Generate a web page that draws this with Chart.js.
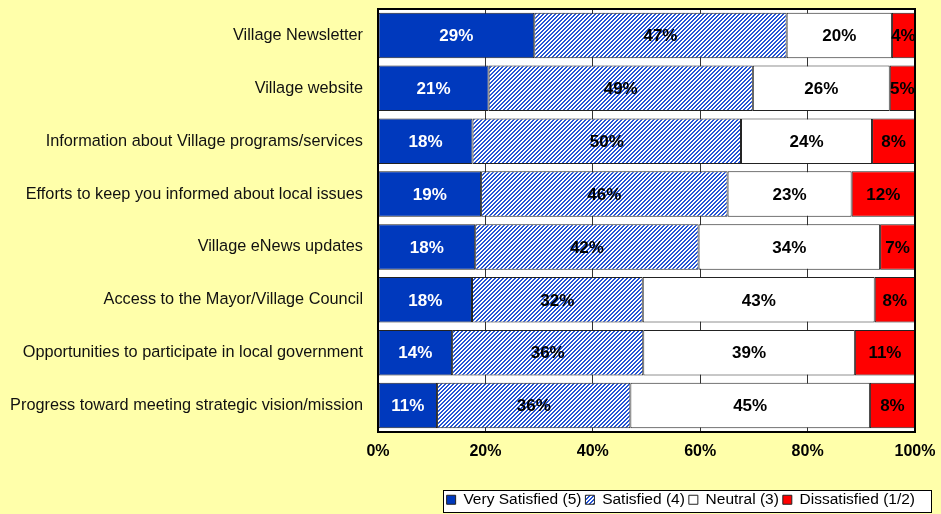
<!DOCTYPE html>
<html><head><meta charset="utf-8">
<script src="https://cdn.jsdelivr.net/npm/chart.js@4/dist/chart.umd.min.js"></script>
<style>html,body{margin:0;padding:0;background:#FFFFAA;overflow:hidden}</style>
</head><body>
<canvas id="c" width="941" height="514"></canvas>
<script>
const categories = [
  "Village Newsletter",
  "Village website",
  "Information about Village programs/services",
  "Efforts to keep you informed about local issues",
  "Village eNews updates",
  "Access to the Mayor/Village Council",
  "Opportunities to participate in local government",
  "Progress toward meeting strategic vision/mission"
];
const seriesNames = ["Very Satisfied (5)", "Satisfied (4)", "Neutral (3)", "Dissatisfied (1/2)"];
const verySatisfied = [29.1, 20.6, 17.6, 19.2, 18.1, 17.5, 13.8, 11.0];
const satisfied     = [47.0, 49.2, 50.0, 45.9, 41.6, 31.8, 35.6, 36.0];
const neutral       = [19.6, 25.5, 24.4, 23.1, 33.8, 43.2, 39.4, 44.6];
const dissatisfied  = [4.3, 4.7, 8.0, 11.8, 6.5, 7.5, 11.2, 8.4];
const xTickValues = [0, 20, 40, 60, 80, 100];

const BLUE = '#0039BD';
const HATCH_BLUE = '#2454D6';
const FONT = "'Liberation Sans', Arial, sans-serif";

function hatchPattern() {
  const c = document.createElement('canvas');
  c.width = 4; c.height = 4;
  const g = c.getContext('2d');
  g.fillStyle = '#fff'; g.fillRect(0, 0, 4, 4);
  g.fillStyle = HATCH_BLUE;
  for (let y = 0; y < 4; y++) for (let x = 0; x < 4; x++) if ((x + y) % 4 < 2) g.fillRect(x, y, 1, 1);
  return g.createPattern(c, 'repeat');
}

const labelColors = ['#ffffff', '#000000', '#000000', '#000000'];

const bgPlugin = {
  id: 'bg',
  beforeDraw(chart) {
    const {ctx, chartArea: a} = chart;
    ctx.save();
    ctx.fillStyle = '#FFFFAA';
    ctx.fillRect(0, 0, chart.width, chart.height);
    ctx.fillStyle = '#ffffff';
    ctx.fillRect(a.left, a.top, a.right - a.left, a.bottom - a.top);
    const boxes = chart.legend && chart.legend.legendHitBoxes;
    if (boxes && boxes.length) {
      const l = Math.min(...boxes.map(b => b.left));
      const r = Math.max(...boxes.map(b => b.left + b.width));
      const t = Math.min(...boxes.map(b => b.top));
      const bt = Math.max(...boxes.map(b => b.top + b.height));
      const x0 = Math.round(l - 4) + 0.5, x1 = Math.round(r + 16) + 0.5;
      const y0 = Math.round(t - 2) + 0.5, y1 = Math.round(bt + 4) + 0.5;
      ctx.fillStyle = '#ffffff';
      ctx.fillRect(x0, y0, x1 - x0, y1 - y0);
      ctx.strokeStyle = '#000';
      ctx.lineWidth = 1;
      ctx.strokeRect(x0, y0, x1 - x0, y1 - y0);
    }
    ctx.restore();
  },
  afterDatasetsDraw(chart) {
    const {ctx, chartArea: a} = chart;
    ctx.save();
    ctx.strokeStyle = '#000';
    ctx.lineWidth = 2;
    ctx.strokeRect(a.left, a.top, a.right - a.left, a.bottom - a.top);
    ctx.font = 'bold 17px ' + FONT;
    ctx.textAlign = 'center';
    ctx.textBaseline = 'middle';
    chart.data.datasets.forEach((ds, di) => {
      const meta = chart.getDatasetMeta(di);
      meta.data.forEach((el, i) => {
        const p = el.getCenterPoint();
        ctx.fillStyle = labelColors[di];
        ctx.fillText(Math.round(ds.data[i]) + '%', p.x, p.y + 1);
      });
    });
    ctx.restore();
  }
};

const seriesData = [verySatisfied, satisfied, neutral, dissatisfied];
const fills = [BLUE, hatchPattern(), '#ffffff', '#FF0000'];

new Chart(document.getElementById('c'), {
  type: 'bar',
  data: {
    labels: categories,
    datasets: seriesNames.map((n, i) => ({
      label: n,
      data: seriesData[i],
      backgroundColor: fills[i],
      borderColor: '#222',
      borderWidth: 1,
      borderSkipped: false,
      barPercentage: 0.86,
      categoryPercentage: 1.0
    }))
  },
  options: {
    indexAxis: 'y',
    responsive: false,
    animation: false,
    devicePixelRatio: 1,
    layout: {padding: {top: 9, bottom: 0, left: 0, right: 22}},
    plugins: {
      tooltip: {enabled: false},
      legend: {
        position: 'bottom',
        align: 'end',
        maxHeight: 26,
        labels: {
          font: {family: FONT, size: 15.5},
          color: '#000',
          boxWidth: 9,
          boxHeight: 9,
          padding: 4
        }
      }
    },
    scales: {
      x: {
        stacked: true,
        min: 0, max: 100,
        afterBuildTicks(s) { s.ticks = xTickValues.map(v => ({value: v})); },
        grid: {color: '#333', lineWidth: 1, drawTicks: false},
        border: {display: false},
        ticks: {
          font: {family: FONT, size: 16, weight: 'bold'},
          color: '#000',
          padding: 10,
          maxRotation: 0,
          callback: v => v + '%'
        },
        afterFit(s) { s.height = 56; s.paddingRight = 0; s.paddingLeft = 0; }
      },
      y: {
        stacked: true,
        grid: {display: false, drawTicks: false},
        border: {display: false},
        ticks: {
          font: {family: FONT, size: 16.3},
          color: '#111',
          padding: 15
        },
        afterFit(s) { s.width = 378; s.paddingTop = 0; s.paddingBottom = 0; }
      },
      y2: {
        type: 'category',
        labels: categories,
        position: 'right',
        grid: {display: false, drawTicks: false},
        border: {display: false},
        ticks: {display: false},
        afterFit(s) { s.width = 4; s.paddingTop = 0; s.paddingBottom = 0; }
      }
    }
  },
  plugins: [bgPlugin]
});
</script>
</body></html>
